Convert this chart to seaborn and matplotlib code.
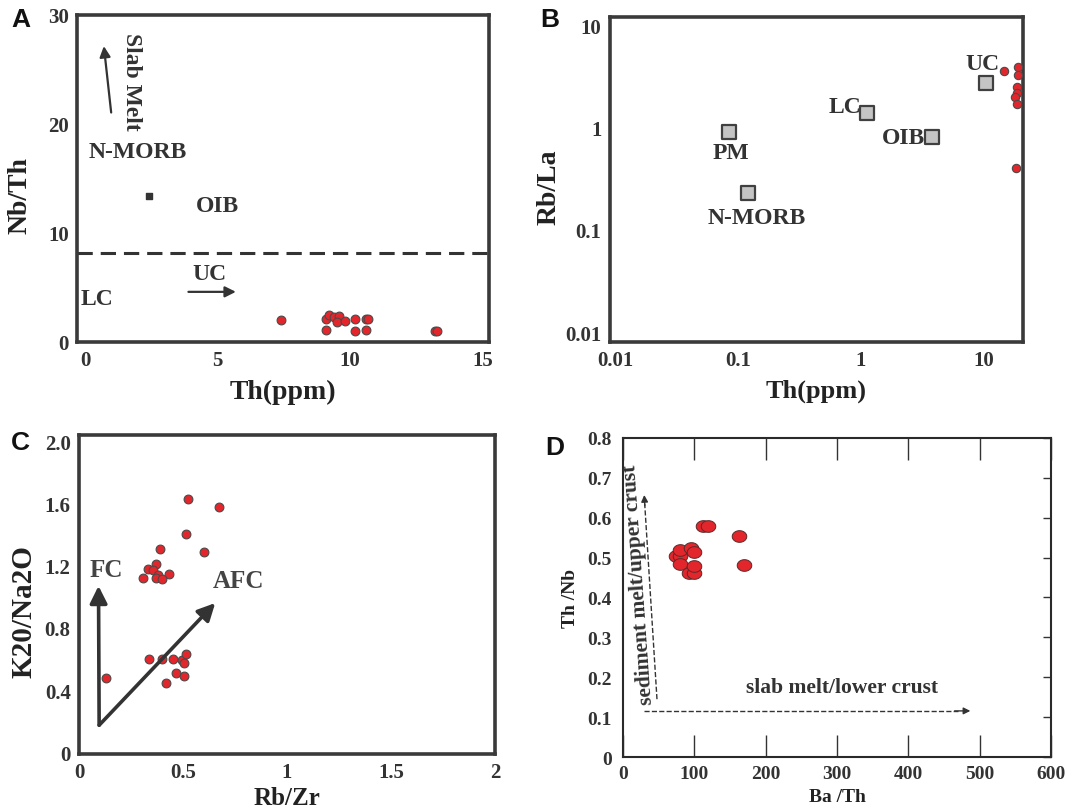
import numpy as np
import pandas as pd
import matplotlib
matplotlib.use("Agg")
import matplotlib.pyplot as plt
from matplotlib.path import Path
import seaborn as sns

# ---- Panel A: Th vs Nb/Th ----
a_th = [7.4, 9.1, 9.2, 9.4, 9.6, 9.5, 9.8, 10.2, 10.6, 10.7, 9.1, 10.2, 10.6, 13.2, 13.3]
a_nbth = [2.0, 2.1, 2.5, 2.3, 2.4, 1.8, 1.9, 2.1, 2.1, 2.1, 1.1, 1.0, 1.1, 1.0, 1.0]
a_ref_th = [2.4]
a_ref_nbth = [13.4]
a_threshold = 8.2

# ---- Panel B: Th vs Rb/La (log-log) ----
b_ref_names = ["PM", "N-MORB", "LC", "OIB", "UC"]
b_ref_th = [0.085, 0.12, 1.12, 3.8, 10.5]
b_ref_rbla = [0.9, 0.23, 1.4, 0.8, 2.7]
b_th = [14.6, 18.9, 18.9, 18.7, 18.7, 17.9, 18.7, 18.3]
b_rbla = [3.6, 3.9, 3.3, 2.5, 2.2, 2.0, 1.7, 0.40]

# ---- Panel C: Rb/Zr vs K2O/Na2O ----
c_rbzr = [0.524, 0.674, 0.516, 0.39, 0.603, 0.368, 0.332, 0.358, 0.381, 0.432,
          0.368, 0.306, 0.40, 0.129, 0.339, 0.398, 0.453, 0.497, 0.516, 0.505,
          0.465, 0.505, 0.419]
c_kna = [1.63, 1.574, 1.405, 1.305, 1.29, 1.213, 1.176, 1.172, 1.14, 1.147,
         1.123, 1.119, 1.112, 0.479, 0.603, 0.599, 0.603, 0.595, 0.631, 0.573,
         0.509, 0.492, 0.447]

# ---- Panel D: Ba/Th vs Th/Nb ----
d_bath = [74.8, 80.4, 80.4, 80.4, 95.8, 99, 93, 100, 100, 111.7, 118.7, 162.6, 169]
d_thnb = [0.503, 0.503, 0.519, 0.484, 0.524, 0.515, 0.462, 0.462, 0.478, 0.580,
          0.580, 0.555, 0.481]

sns.set_style("white")
plt.rcParams["font.family"] = ["Liberation Serif", "DejaVu Serif"]
plt.rcParams["font.weight"] = "bold"
plt.rcParams["axes.labelweight"] = "bold"

RED = "#e3262c"
EDGE = "#4a4a4a"
INK = "#333333"
SPINE = "#3a3a3a"

fig = plt.figure(figsize=(10.7, 8.12), dpi=100)
axA = fig.add_axes([0.072, 0.5776, 0.385, 0.4027])
axB = fig.add_axes([0.570, 0.5776, 0.386, 0.4000])
axC = fig.add_axes([0.0738, 0.0702, 0.3888, 0.3929])
axD = fig.add_axes([0.5822, 0.0665, 0.4000, 0.3929])


def frame(ax, lw, color=SPINE):
    for s in ax.spines.values():
        s.set_visible(True)
        s.set_linewidth(lw)
        s.set_color(color)


# ---------------- A ----------------
dfA = pd.DataFrame({"Th": a_th, "NbTh": a_nbth})
sns.scatterplot(data=dfA, x="Th", y="NbTh", ax=axA, color=RED, edgecolor=EDGE,
                linewidth=0.8, s=40, zorder=3)
axA.scatter(a_ref_th, a_ref_nbth, marker="s", s=22, color=INK, zorder=3)
axA.axhline(a_threshold, color=INK, lw=2.2, ls=(0, (5, 2.6)))
axA.set_xlim(-0.3, 15.25)
axA.set_ylim(0, 30)
axA.set_xticks([0, 5, 10, 15])
axA.set_yticks([0, 10, 20, 30])
axA.tick_params(direction="in", length=6, width=1.5, colors=INK, labelsize=15, pad=6)
axA.set_xlabel("Th(ppm)", fontsize=20, color="#222", labelpad=6)
axA.set_ylabel("Nb/Th", fontsize=20, color="#222")
axA.yaxis.set_label_coords(-0.107, 0.45)
frame(axA, 2.6)
tk = dict(fontsize=17, color=INK, ha="center", va="center", fontweight="bold")
axA.text(2.0, 17.5, "N-MORB", **tk)
axA.text(5.0, 12.5, "OIB", **tk)
axA.text(4.7, 6.3, "UC", **tk)
axA.text(0.45, 4.0, "LC", **tk)
axA.text(1.75, 24.0, "Slab Melt", rotation=-90, **tk)
axA.annotate("", xy=(0.7, 27.4), xytext=(1.0, 20.8),
             arrowprops=dict(arrowstyle="-|>", color=INK, lw=1.6, mutation_scale=16))
axA.annotate("", xy=(5.8, 4.6), xytext=(3.8, 4.6),
             arrowprops=dict(arrowstyle="-|>", color=INK, lw=1.6, mutation_scale=16))

# ---------------- B ----------------
dfB = pd.DataFrame({"Th": b_th, "RbLa": b_rbla})
dfRef = pd.DataFrame({"Th": b_ref_th, "RbLa": b_ref_rbla, "name": b_ref_names})
sns.scatterplot(data=dfRef, x="Th", y="RbLa", ax=axB, marker="s", s=95,
                color="#c4c4c4", edgecolor="#404040", linewidth=1.6, zorder=3)
sns.scatterplot(data=dfB, x="Th", y="RbLa", ax=axB, color=RED, edgecolor=EDGE,
                linewidth=0.8, s=36, zorder=4, clip_on=False)
axB.set_xscale("log")
axB.set_yscale("log")
axB.set_xlim(0.0091, 20.8)
axB.set_ylim(0.008, 12)
axB.set_xticks([0.01, 0.1, 1, 10])
axB.set_xticklabels(["0.01", "0.1", "1", "10"])
axB.set_yticks([0.01, 0.1, 1, 10])
axB.set_yticklabels(["0.01", "0.1", "1", "10"])
axB.tick_params(which="major", direction="in", length=9, width=1.4, colors=INK,
                labelsize=15, pad=6)
axB.tick_params(which="minor", direction="in", length=5, width=1.0, colors=INK)
axB.set_xlabel("Th(ppm)", fontsize=19, color="#222", labelpad=6)
axB.set_ylabel("Rb/La", fontsize=20, color="#222")
axB.yaxis.set_label_coords(-0.116, 0.48)
frame(axB, 2.6)
b_label_pos = {"PM": (0.088, 0.57), "N-MORB": (0.143, 0.131), "LC": (0.74, 1.6),
               "OIB": (2.2, 0.8), "UC": (9.8, 4.2)}
for nm in b_ref_names:
    x, y = b_label_pos[nm]
    axB.text(x, y, nm, fontsize=17, color=INK, ha="center", va="center", fontweight="bold")

# ---------------- C ----------------
dfC = pd.DataFrame({"RbZr": c_rbzr, "KNa": c_kna})
sns.scatterplot(data=dfC, x="RbZr", y="KNa", ax=axC, color=RED, edgecolor=EDGE,
                linewidth=0.8, s=40, zorder=3)
axC.set_xlim(0, 2)
axC.set_ylim(-0.01, 2.04)
axC.set_xticks([0, 0.5, 1, 1.5, 2])
axC.set_xticklabels(["0", "0.5", "1", "1.5", "2"])
axC.set_yticks([0, 0.4, 0.8, 1.2, 1.6, 2.0])
axC.set_yticklabels(["0", "0.4", "0.8", "1.2", "1.6", "2.0"])
axC.tick_params(direction="in", length=5, width=1.2, colors=INK, labelsize=15, pad=6)
axC.set_xlabel("Rb/Zr", fontsize=18, color="#222", labelpad=3)
axC.set_ylabel("K20/Na2O", fontsize=21, color="#222")
axC.yaxis.set_label_coords(-0.10, 0.45)
frame(axC, 2.6)
axC.annotate("", xy=(0.094, 1.07), xytext=(0.097, 0.175),
             arrowprops=dict(arrowstyle="-|>", color=INK, lw=2.6, mutation_scale=26,
                             shrinkA=0, shrinkB=0))
axC.annotate("", xy=(0.655, 0.96), xytext=(0.097, 0.175),
             arrowprops=dict(arrowstyle="-|>", color=INK, lw=2.6, mutation_scale=26,
                             shrinkA=0, shrinkB=0))
axC.text(0.132, 1.176, "FC", fontsize=18, color="#444", ha="center", va="center")
axC.text(0.765, 1.108, "AFC", fontsize=18, color="#444", ha="center", va="center")

# ---------------- D ----------------
t = np.linspace(0, 2 * np.pi, 60)
ellipse = Path(np.column_stack([np.cos(t), 0.8 * np.sin(t)]))
dfD = pd.DataFrame({"BaTh": d_bath, "ThNb": d_thnb})
sns.scatterplot(data=dfD, x="BaTh", y="ThNb", ax=axD, marker=ellipse, s=110,
                color=RED, edgecolor="#5a2a2a", linewidth=0.7, zorder=3)
axD.set_xlim(0, 600)
axD.set_ylim(0, 0.8)
axD.set_xticks(np.arange(0, 601, 100))
axD.set_yticks(np.round(np.arange(0, 0.81, 0.1), 1))
axD.set_yticklabels(["0", "0.1", "0.2", "0.3", "0.4", "0.5", "0.6", "0.7", "0.8"])
axD.tick_params(axis="x", direction="in", length=16, width=1.0, colors=INK,
                labelsize=14, top=True, bottom=True, pad=6)
axD.tick_params(axis="y", direction="in", length=6, width=1.0, colors=INK,
                labelsize=14, left=False, right=True, pad=8)
axD.set_xlabel("Ba /Th", fontsize=14, color="#222", labelpad=4)
axD.set_ylabel("Th /Nb", fontsize=14, color="#222")
axD.yaxis.set_label_coords(-0.103, 0.50)
frame(axD, 1.5, "#2a2a2a")
# dashed trend lines with arrowheads
axD.plot([47.7, 30.5], [0.145, 0.635], ls="--", lw=1.0, color=INK)
axD.annotate("", xy=(29.9, 0.657), xytext=(30.6, 0.63),
             arrowprops=dict(arrowstyle="-|>", color=INK, lw=1.0, mutation_scale=10,
                             shrinkA=0, shrinkB=0))
axD.plot([29.9, 470], [0.1156, 0.1156], ls="--", lw=1.0, color=INK)
axD.annotate("", xy=(487, 0.1156), xytext=(465, 0.1156),
             arrowprops=dict(arrowstyle="-|>", color=INK, lw=1.0, mutation_scale=10,
                             shrinkA=0, shrinkB=0))
axD.text(307, 0.176, "slab melt/lower crust", fontsize=15.5, color=INK,
         ha="center", va="center")
axD.text(22, 0.434, "sediment melt/upper crust", fontsize=15.5, color=INK,
         ha="center", va="center", rotation=94, rotation_mode="anchor")

# panel letters
for lbl, (x, y) in {"A": (11, 20), "B": (540, 20), "C": (11, 443), "D": (545, 448)}.items():
    fig.text(x / 1070, 1 - y / 812, lbl, fontsize=19, fontweight="bold",
             family=["Liberation Sans", "DejaVu Sans"], ha="left", va="center", color="#111")

fig.savefig("out.png", dpi=100)
